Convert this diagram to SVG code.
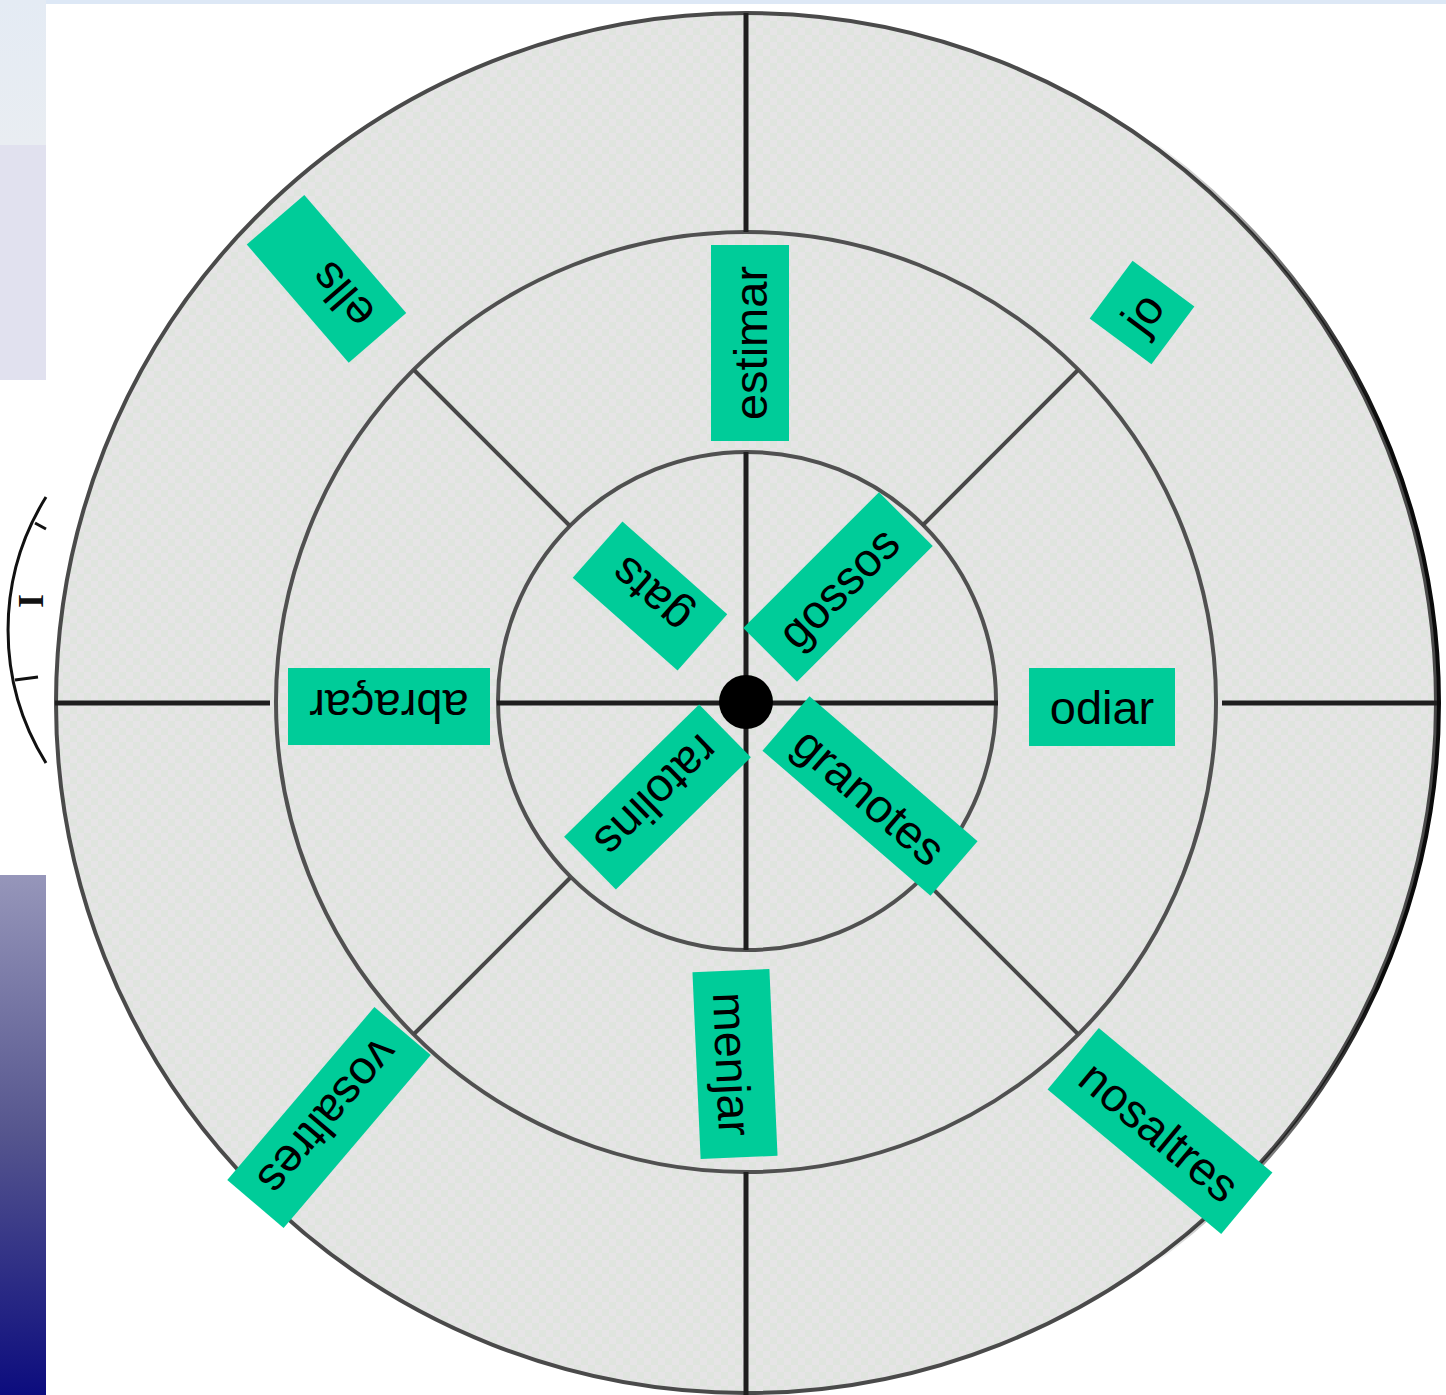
<svg xmlns="http://www.w3.org/2000/svg" width="1446" height="1395" viewBox="0 0 1446 1395">
  <defs>
    <linearGradient id="navy" x1="0" y1="0" x2="0" y2="1">
      <stop offset="0" stop-color="#9696ba"/>
      <stop offset="0.5" stop-color="#55558e"/>
      <stop offset="1" stop-color="#0c0c7e"/>
    </linearGradient>
    <linearGradient id="topstrip" x1="0" y1="0" x2="0" y2="1">
      <stop offset="0" stop-color="#e4ebf4"/>
      <stop offset="1" stop-color="#e9edf2"/>
    </linearGradient>
    <pattern id="checker" width="14" height="14" patternUnits="userSpaceOnUse">
      <rect width="14" height="14" fill="#dfe4de"/>
      <rect width="7" height="7" fill="#e6e4e6"/>
      <rect x="7" y="7" width="7" height="7" fill="#e6e4e6"/>
    </pattern>
    <linearGradient id="fadeRight" gradientUnits="userSpaceOnUse" x1="1150" y1="0" x2="1380" y2="0">
      <stop offset="0" stop-color="#000"/>
      <stop offset="1" stop-color="#fff"/>
    </linearGradient>
    <mask id="rightside" maskUnits="userSpaceOnUse" x="0" y="0" width="1446" height="1395">
      <rect x="0" y="0" width="1446" height="1395" fill="url(#fadeRight)"/>
    </mask>
  </defs>
  <style>
    .ring { fill: none; stroke: #505050; stroke-width: 4; }
    .axis { stroke: #1e1e1e; stroke-width: 5; }
    .diag { stroke: #474747; stroke-width: 4; }
    .lbl rect { fill: #00cc99; }
    .lbl text { font-family: "Liberation Sans", Arial, sans-serif; font-size: 47px; fill: #000; text-anchor: middle; }
  </style>

  <!-- background -->
  <rect x="0" y="0" width="1446" height="1395" fill="#ffffff"/>
  <rect x="0" y="0" width="1446" height="4" fill="#dde8f6"/>
  <rect x="0" y="0" width="46" height="145" fill="url(#topstrip)"/>
  <rect x="0" y="145" width="46" height="235" fill="#e1e1ef"/>
  <rect x="0" y="875" width="46" height="520" fill="url(#navy)"/>

  <!-- partial clock fragment at left -->
  <g id="clock-fragment" fill="none" stroke="#111" stroke-width="3">
    <path d="M46,497 A252,252 0 0 0 46,763"/>
    <line x1="35" y1="523" x2="46" y2="529"/>
    <line x1="15" y1="680" x2="38" y2="677"/>
  </g>
  <text x="31" y="601" transform="rotate(90 31 601)" font-family="Liberation Serif, serif" font-weight="bold" font-size="36" text-anchor="middle" dominant-baseline="central" fill="#111">I</text>

  <!-- disc -->
  <g id="disc">
    <circle cx="746" cy="703" r="690" fill="url(#checker)" stroke="#4a4a4a" stroke-width="4"/>
    <circle cx="749" cy="703" r="690" fill="none" stroke="#0a0a0a" stroke-width="4" mask="url(#rightside)"/>
    <circle class="ring" cx="746" cy="702" r="470"/>
    <circle class="ring" cx="747" cy="701" r="249"/>
  </g>

  <!-- connectors / dividing lines -->
  <g id="connectors">
    <line class="axis" x1="746" y1="13" x2="746" y2="232"/>
    <line class="axis" x1="746" y1="1172" x2="746" y2="1395"/>
    <line class="axis" x1="746" y1="452" x2="746" y2="950"/>
    <line class="axis" x1="55" y1="703" x2="270" y2="703"/>
    <line class="axis" x1="1222" y1="703" x2="1437" y2="703"/>
    <line class="axis" x1="497" y1="703" x2="998" y2="703"/>
    <line class="diag" x1="414" y1="370" x2="570" y2="526"/>
    <line class="diag" x1="1078" y1="370" x2="922" y2="526"/>
    <line class="diag" x1="414" y1="1034" x2="570" y2="878"/>
    <line class="diag" x1="1078" y1="1034" x2="922" y2="878"/>
  </g>

  <g id="hub"><circle cx="746" cy="702" r="27" fill="#000"/></g>

  <!-- labels -->
  <g id="ells" class="lbl" transform="translate(326.5 278.8) rotate(-130.8)">
    <rect x="-78" y="-38" width="156" height="76"/>
    <text x="-23" y="17">ells</text>
  </g>
  <g id="jo" class="lbl" transform="translate(1142 312.5) rotate(-53.4)">
    <rect x="-36" y="-38.5" width="72" height="77"/>
    <text x="0" y="17">jo</text>
  </g>
  <g id="estimar" class="lbl" transform="translate(750 343) rotate(-90)">
    <rect x="-98" y="-39" width="196" height="78"/>
    <text x="0" y="17">estimar</text>
  </g>
  <g id="gats" class="lbl" transform="translate(650 596) rotate(-138.5)">
    <rect x="-70" y="-37.5" width="140" height="75"/>
    <text x="0" y="17">gats</text>
  </g>
  <g id="gossos" class="lbl" transform="translate(838 587) rotate(-45)">
    <rect x="-96" y="-38" width="192" height="76"/>
    <text x="0" y="17">gossos</text>
  </g>
  <g id="abracar" class="lbl" transform="translate(389 706.5) rotate(180)">
    <rect x="-101" y="-38.5" width="202" height="77"/>
    <text x="0" y="17">abraçar</text>
  </g>
  <g id="odiar" class="lbl" transform="translate(1102 707)">
    <rect x="-73" y="-39" width="146" height="78"/>
    <text x="0" y="17">odiar</text>
  </g>
  <g id="ratolins" class="lbl" transform="translate(657.5 797) rotate(135.6)">
    <rect x="-94.5" y="-37" width="189" height="74"/>
    <text x="0" y="17">ratolins</text>
  </g>
  <g id="granotes" class="lbl" transform="translate(870 796) rotate(40.8)">
    <rect x="-111" y="-36" width="222" height="72"/>
    <text x="0" y="17">granotes</text>
  </g>
  <g id="menjar" class="lbl" transform="translate(735 1064) rotate(87.5)">
    <rect x="-93.5" y="-38.5" width="187" height="77"/>
    <text x="0" y="19">menjar</text>
  </g>
  <g id="vosaltres" class="lbl" transform="translate(329 1117.5) rotate(130.4)">
    <rect x="-113.5" y="-37" width="227" height="74"/>
    <text x="0" y="17">vosaltres</text>
  </g>
  <g id="nosaltres" class="lbl" transform="translate(1160 1131) rotate(39.8)">
    <rect x="-113" y="-40" width="226" height="80"/>
    <text x="0" y="17">nosaltres</text>
  </g>
</svg>
